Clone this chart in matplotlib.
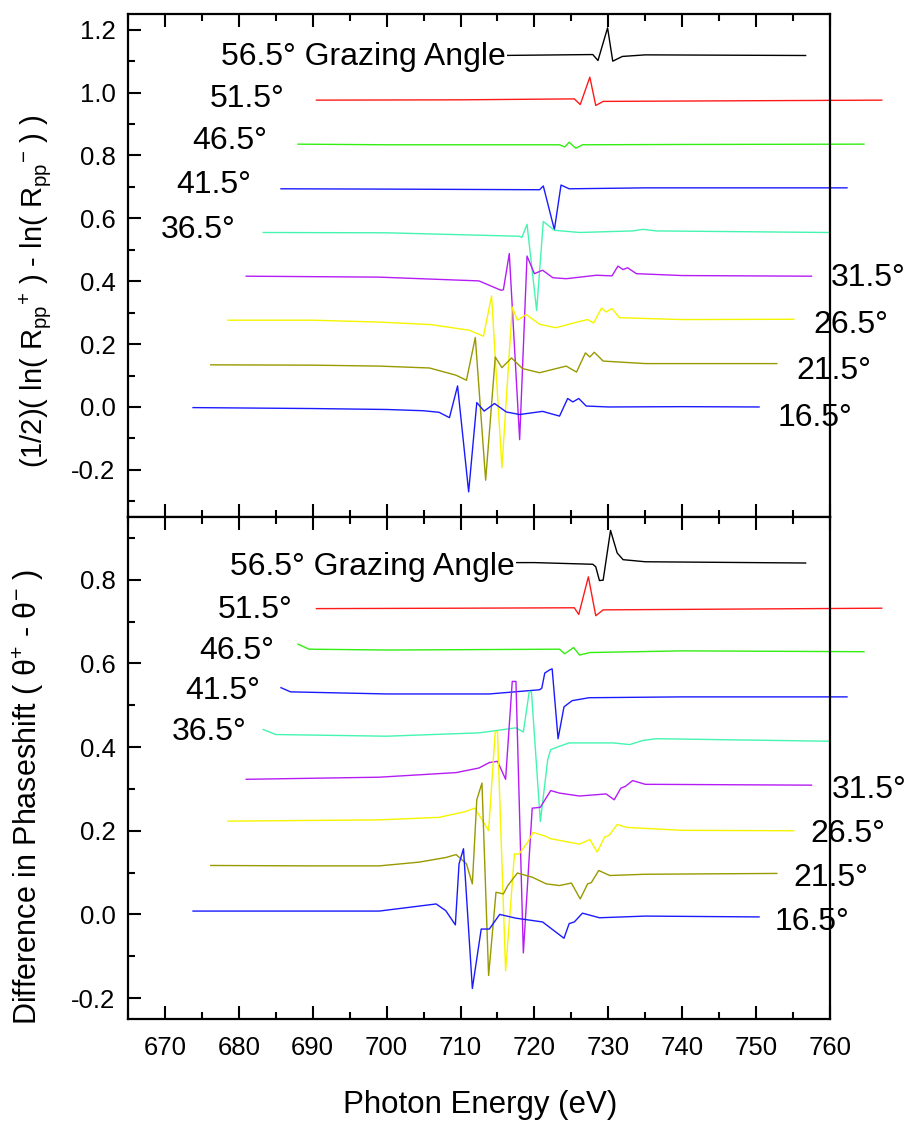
import matplotlib
matplotlib.use('Agg')
import matplotlib.pyplot as plt
from matplotlib.ticker import MultipleLocator

plt.rcParams['font.family'] = ['Liberation Sans', 'DejaVu Sans']
plt.rcParams['mathtext.fontset'] = 'custom'
plt.rcParams['mathtext.rm'] = 'Liberation Sans'
plt.rcParams['mathtext.it'] = 'Liberation Sans:italic'
plt.rcParams['mathtext.sf'] = 'Liberation Sans'

# grazing angles and their colours (same order in both panels)
angles = ['56.5', '51.5', '46.5', '41.5', '36.5', '31.5', '26.5', '21.5', '16.5']
colors = ['#000000', '#ff1a1a', '#33ee11', '#1a1aff', '#44f5b0',
          '#b51cf5', '#f5f500', '#999900', '#1a1aff']

# ---- top panel: (1/2)(ln(R+) - ln(R-)) ----
e_top_56 = [692.9, 715, 727.9, 728.6, 729.9, 730.6, 731.9, 735, 756.7]
v_top_56 = [1.118, 1.118, 1.121, 1.102, 1.206, 1.100, 1.115, 1.120, 1.118]
e_top_51 = [690.5, 710, 725.4, 726.2, 727.5, 728.3, 729.3, 767.0]
v_top_51 = [0.976, 0.977, 0.980, 0.962, 1.049, 0.959, 0.972, 0.976]
e_top_46 = [688.0, 700, 723.4, 724.1, 724.7, 725.6, 726.5, 740, 764.6]
v_top_46 = [0.836, 0.834, 0.834, 0.827, 0.842, 0.823, 0.834, 0.835, 0.836]
e_top_41 = [685.7, 700, 720.7, 721.2, 722.7, 723.6, 724.7, 735.1, 762.3]
v_top_41 = [0.694, 0.693, 0.691, 0.703, 0.564, 0.706, 0.694, 0.697, 0.697]
e_top_36 = [683.3, 700, 718.0, 718.3, 719.0, 720.3, 721.2, 722.7, 726.1,
            733.3, 734.7, 736.5, 759.8]
v_top_36 = [0.555, 0.554, 0.543, 0.539, 0.581, 0.307, 0.590, 0.562, 0.555,
            0.560, 0.565, 0.560, 0.555]
e_top_31 = [681.0, 699.0, 712.5, 715.5, 715.8, 716.6, 718.0, 719.0, 720.0,
            721.1, 722.5, 724.3, 728.4, 730.5, 731.3, 732.0, 732.6, 733.8,
            740, 757.5]
v_top_31 = [0.416, 0.413, 0.401, 0.371, 0.373, 0.488, -0.104, 0.480, 0.424,
            0.435, 0.411, 0.408, 0.419, 0.417, 0.448, 0.437, 0.443, 0.424,
            0.418, 0.416]
e_top_26 = [678.5, 690, 699.0, 706, 711.2, 713.1, 714.2, 715.6, 717.0, 717.7,
            718.9, 720.7, 722.9, 726.1, 727.2, 728.0, 729.1, 729.7, 730.5,
            731.5, 740, 755.1]
v_top_26 = [0.276, 0.276, 0.270, 0.262, 0.244, 0.225, 0.353, -0.193, 0.318,
            0.276, 0.294, 0.263, 0.252, 0.272, 0.278, 0.267, 0.315, 0.302,
            0.313, 0.284, 0.278, 0.279]
e_top_21 = [676.2, 690, 699.0, 705.8, 709.4, 710.8, 712.0, 713.4, 714.7,
            715.6, 716.9, 718.4, 720.7, 724.3, 725.7, 726.9, 727.5, 728.1,
            729.3, 735, 752.8]
v_top_21 = [0.134, 0.133, 0.130, 0.124, 0.101, 0.085, 0.221, -0.233, 0.159,
            0.125, 0.156, 0.122, 0.109, 0.130, 0.111, 0.172, 0.159, 0.174,
            0.146, 0.138, 0.138]
e_top_16 = [673.8, 690, 700, 705, 707.1, 708.5, 709.6, 711.1, 712.2, 713.2,
            714.6, 716.2, 718.0, 721.1, 723.4, 724.5, 725.2, 726.0, 727.0,
            730, 740, 750.4]
v_top_16 = [-0.002, -0.005, -0.008, -0.012, -0.017, -0.034, 0.067, -0.270,
            0.014, -0.013, 0.011, -0.016, -0.024, -0.014, -0.029, 0.027,
            0.016, 0.027, 0.003, 0.0, 0.001, 0.0]

# ---- bottom panel: difference in phase shift ----
e_bot_56 = [692.9, 720, 727.9, 728.3, 728.8, 729.3, 730.3, 731.2, 732.0, 735, 756.7]
v_bot_56 = [0.841, 0.841, 0.837, 0.831, 0.798, 0.799, 0.918, 0.864, 0.848, 0.843, 0.840]
e_bot_51 = [690.5, 710, 725.4, 726.0, 727.3, 728.3, 729.3, 767.0]
v_bot_51 = [0.731, 0.732, 0.733, 0.717, 0.807, 0.714, 0.728, 0.732]
e_bot_46 = [688.0, 689.5, 700, 723.4, 724.1, 725.3, 726.1, 727.5, 740, 764.6]
v_bot_46 = [0.646, 0.634, 0.632, 0.634, 0.623, 0.638, 0.620, 0.626, 0.630, 0.628]
e_bot_41 = [685.7, 687.0, 700, 713.9, 720.7, 721.0, 721.4, 722.1, 722.4,
            723.2, 724.0, 725.1, 727.4, 740, 762.3]
v_bot_41 = [0.542, 0.532, 0.527, 0.527, 0.537, 0.541, 0.577, 0.585, 0.587,
            0.420, 0.496, 0.511, 0.518, 0.520, 0.520]
e_bot_36 = [683.3, 685.0, 700, 712.5, 717.5, 718.5, 719.3, 719.6, 720.8,
            721.8, 722.2, 723.4, 724.7, 730.6, 732.9, 734.7, 736.5, 759.8]
v_bot_36 = [0.442, 0.430, 0.426, 0.434, 0.446, 0.436, 0.533, 0.532, 0.222,
            0.370, 0.394, 0.402, 0.410, 0.410, 0.406, 0.416, 0.420, 0.414]
e_bot_31 = [681.0, 699, 709.4, 712.5, 713.9, 715.0, 716.1, 717.0, 717.5,
            718.5, 719.7, 720.8, 722.2, 723.4, 726.1, 729.7, 730.8, 731.7,
            732.3, 733.3, 735, 757.5]
v_bot_31 = [0.323, 0.328, 0.339, 0.350, 0.363, 0.366, 0.323, 0.557, 0.557,
            -0.092, 0.254, 0.256, 0.296, 0.290, 0.283, 0.288, 0.274, 0.302,
            0.306, 0.320, 0.311, 0.309]
e_bot_26 = [678.5, 699, 707.1, 710.7, 711.9, 712.5, 713.8, 714.7, 715.0,
            716.1, 717.3, 717.9, 719.1, 719.8, 721.1, 721.5, 722.2, 726.1,
            727.5, 728.5, 729.5, 730.1, 731.2, 732.5, 740, 755.1]
v_bot_26 = [0.223, 0.226, 0.232, 0.246, 0.254, 0.238, 0.200, 0.437, 0.437,
            -0.135, 0.145, 0.144, 0.173, 0.196, 0.189, 0.187, 0.181, 0.168,
            0.179, 0.149, 0.185, 0.189, 0.215, 0.208, 0.201, 0.200]
e_bot_21 = [676.2, 690, 699.0, 704.4, 708.0, 709.4, 710.8, 711.6, 712.2,
            712.9, 713.8, 714.8, 715.8, 716.4, 717.7, 719.7, 721.6, 723.4,
            725.0, 726.2, 727.2, 727.7, 728.7, 730.2, 735, 752.8]
v_bot_21 = [0.117, 0.116, 0.116, 0.125, 0.136, 0.143, 0.121, 0.073, 0.274,
            0.314, -0.146, 0.053, 0.049, 0.069, 0.099, 0.089, 0.073, 0.069,
            0.075, 0.037, 0.073, 0.076, 0.105, 0.093, 0.096, 0.098]
e_bot_16 = [673.8, 690, 699.0, 706.7, 708.0, 709.3, 709.8, 710.4, 711.6,
            712.8, 713.9, 715.3, 717.5, 721.1, 724.0, 724.7, 725.4, 726.5,
            728.8, 735, 750.4]
v_bot_16 = [0.008, 0.008, 0.008, 0.025, 0.009, -0.025, 0.121, 0.157, -0.177,
            -0.035, -0.035, 0.0, -0.009, -0.018, -0.057, -0.022, -0.018, 0.003,
            -0.008, -0.004, -0.006]

top_curves = [(e_top_56, v_top_56), (e_top_51, v_top_51), (e_top_46, v_top_46),
              (e_top_41, v_top_41), (e_top_36, v_top_36), (e_top_31, v_top_31),
              (e_top_26, v_top_26), (e_top_21, v_top_21), (e_top_16, v_top_16)]
bot_curves = [(e_bot_56, v_bot_56), (e_bot_51, v_bot_51), (e_bot_46, v_bot_46),
              (e_bot_41, v_bot_41), (e_bot_36, v_bot_36), (e_bot_31, v_bot_31),
              (e_bot_26, v_bot_26), (e_bot_21, v_bot_21), (e_bot_16, v_bot_16)]

# label anchors (left edge, baseline) in data units
top_lab_x = [677.6, 676.0, 673.7, 671.5, 669.5, 760.1, 757.7, 755.4, 752.9]
top_lab_y = [1.087, 0.953, 0.822, 0.680, 0.537, 0.384, 0.235, 0.089, -0.061]
bot_lab_x = [678.8, 677.1, 674.6, 672.7, 670.9, 760.2, 757.4, 755.1, 752.5]
bot_lab_y = [0.811, 0.708, 0.610, 0.515, 0.418, 0.278, 0.174, 0.069, -0.037]

W, H = 906, 1123
fig = plt.figure(figsize=(W / 100, H / 100), dpi=100)
ax1 = fig.add_axes([128 / W, 1 - 517 / H, 702 / W, 503 / H])
ax2 = fig.add_axes([128 / W, 1 - 1019 / H, 702 / W, 502 / H])


def draw_panel(ax, curves, lab_x, lab_y):
    for (e, v), c in zip(curves, colors):
        ax.plot(e, v, color=c, lw=1.0, clip_on=False, zorder=2)
    for i, a in enumerate(angles):
        txt = a + '\u00b0'
        if i == 0:
            # the black trace runs underneath this label
            txt += ' Grazing Angle'
            ax.text(lab_x[i], lab_y[i], txt, fontsize=23, va='baseline',
                    ha='left', zorder=5, clip_on=False,
                    bbox=dict(facecolor='white', edgecolor='none', pad=1))
        else:
            ax.text(lab_x[i], lab_y[i], txt, fontsize=23, va='baseline',
                    ha='left', zorder=5, clip_on=False)
    ax.set_xlim(665, 760)
    ax.xaxis.set_major_locator(MultipleLocator(10))
    ax.xaxis.set_minor_locator(MultipleLocator(5))
    ax.yaxis.set_major_locator(MultipleLocator(0.2))
    ax.yaxis.set_minor_locator(MultipleLocator(0.1))
    ax.tick_params(which='both', direction='in', top=True, bottom=True,
                   left=True, right=False, width=1.5, labelsize=18.5)
    ax.tick_params(which='major', length=9.5)
    ax.tick_params(which='minor', length=5)
    ax.tick_params(axis='y', pad=9)
    ax.tick_params(axis='x', pad=12)
    for s in ax.spines.values():
        s.set_linewidth(1.6)
    ax.yaxis.set_major_formatter(plt.FuncFormatter(lambda v, p: '%.1f' % v))


draw_panel(ax1, top_curves, top_lab_x, top_lab_y)
ax1.set_ylim(-0.35, 1.25)
ax1.tick_params(labelbottom=False)

draw_panel(ax2, bot_curves, bot_lab_x, bot_lab_y)
ax2.set_ylim(-0.25, 0.95)

fig.text(36 / W, 1 - 291 / H,
         r'(1/2)( ln( R$_{\rm pp}$$^{+}$ ) - ln( R$_{\rm pp}$$^{-}$ ) )',
         rotation=90, ha='center', va='center', fontsize=21)
fig.text(28 / W, 1 - 797 / H, 'Difference in Phaseshift ( \u03b8$^{+}$ - \u03b8$^{-}$ )',
         rotation=90, ha='center', va='center', fontsize=22)
fig.text(480 / W, 1 - 1113 / H, 'Photon Energy (eV)', ha='center',
         va='baseline', fontsize=22.5)

plt.savefig('out.png', dpi=100)
